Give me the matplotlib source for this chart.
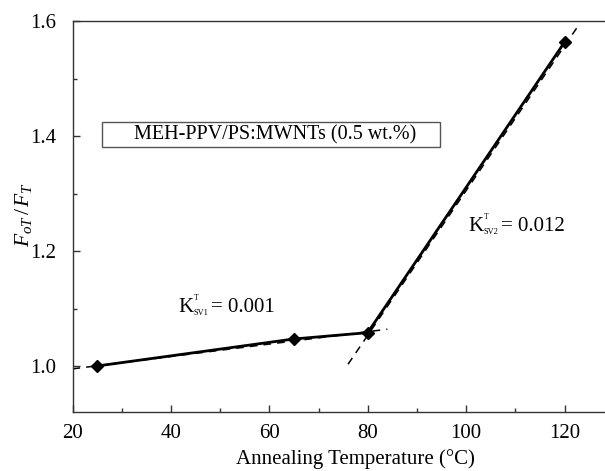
import matplotlib
matplotlib.use("Agg")
import matplotlib.pyplot as plt
from matplotlib.patches import Rectangle
from matplotlib.ticker import MultipleLocator, FormatStrFormatter

plt.rcParams['font.family'] = ['Liberation Serif', 'DejaVu Serif']
plt.rcParams['mathtext.fontset'] = 'custom'
plt.rcParams['mathtext.rm'] = 'Liberation Serif'
plt.rcParams['mathtext.it'] = 'Liberation Serif:italic'

temps = [25, 65, 80, 120]
ratio = [1.000, 1.047, 1.058, 1.563]

fit1_x = [20, 84]
fit1_y = [0.995, 1.064]
fit2_x = [76, 122.5]
fit2_y = [1.003, 1.588]

px = 4.92  # pixels per degree
fig = plt.figure(figsize=(6.05, 4.71), dpi=100)
ax = fig.add_axes([72.5/605, 59/471, (115*px)/605, 391/471])

ax.plot(fit1_x, fit1_y, color='black', lw=1.1, ls=(0, (5, 4)))
ax.plot(fit2_x, fit2_y, color='black', lw=1.1, ls=(0, (5, 4)))
ax.plot(temps, ratio, color='black', lw=2.0, marker='D', ms=6.5)

ax.set_xlim(20, 135)
ax.set_ylim(0.92, 1.6)
ax.set_xticks([20, 40, 60, 80, 100, 120])
ax.xaxis.set_minor_locator(MultipleLocator(10))
ax.yaxis.set_major_locator(MultipleLocator(0.2))
ax.yaxis.set_minor_locator(MultipleLocator(0.1))
ax.tick_params(which='both', direction='in', labelsize=15, color='#333333')
ax.tick_params(which='major', length=5, width=1)
ax.tick_params(which='minor', length=3, width=1)
ax.tick_params(axis='x', pad=9)
ax.tick_params(axis='y', pad=12)
ax.yaxis.set_major_formatter(FormatStrFormatter('%.1f'))
for s in ax.spines.values():
    s.set_color('#333333')
    s.set_linewidth(1.0)
ax.spines['right'].set_visible(False)

ax.set_xlabel('Annealing Temperature (°C)', fontsize=15, labelpad=4)
ax.set_ylabel(r'$F_{oT}\,/\,F_{T}$', fontsize=15.5)
ax.yaxis.set_label_coords(-0.068, 0.505)

ax.add_patch(Rectangle((26.0, 1.381), 68.7, 0.043, fill=False, ec='#555555', lw=1))
ax.text(61.2, 1.4025, 'MEH-PPV/PS:MWNTs (0.5 wt.%)', fontsize=14.5, va='center', ha='center')


def k_label(x, y, sub, value):
    ax.text(x, y, 'K', fontsize=15, va='baseline', ha='left')
    ax.annotate('T', (x, y), xytext=(11.2, 8.5), textcoords='offset points',
                fontsize=5.5, va='baseline', ha='left')
    ax.annotate(sub, (x, y), xytext=(10.8, -2.5), textcoords='offset points',
                fontsize=6, va='baseline', ha='left')
    ax.annotate('= ' + value, (x, y), xytext=(23.5, 0), textcoords='offset points',
                fontsize=15, va='baseline', ha='left')


k_label(41.5, 1.094, 'SV1', '0.001')
k_label(100.5, 1.235, 'SV2', '0.012')

fig.savefig('out.png', dpi=100)
